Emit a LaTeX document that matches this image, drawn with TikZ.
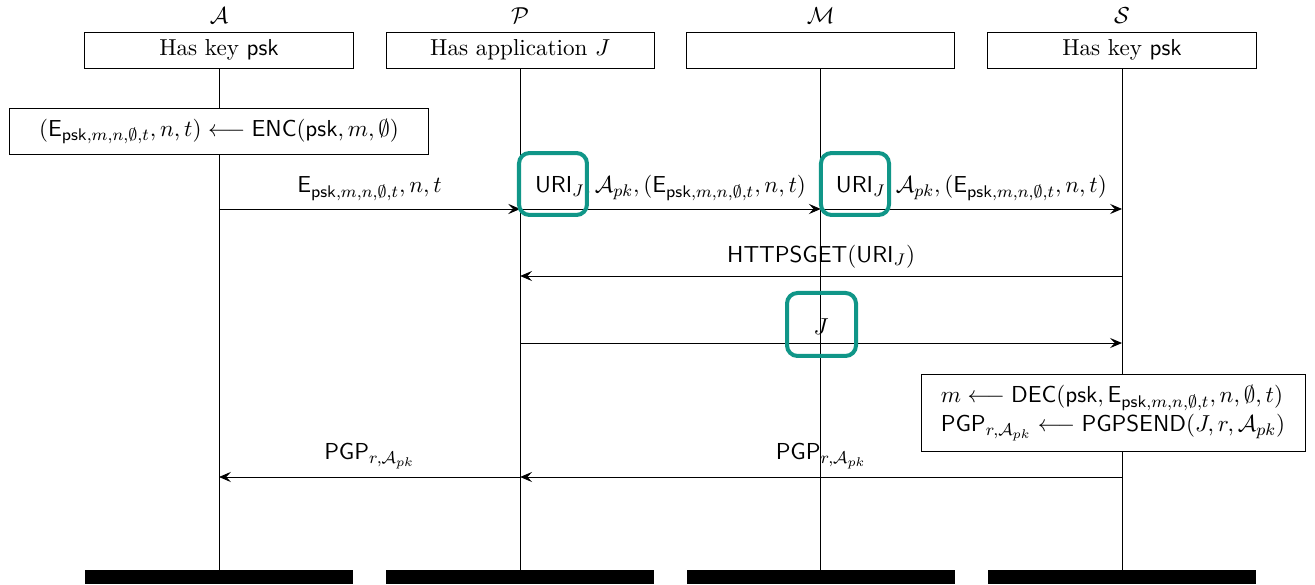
\documentclass[tikz,border=0pt,11pt]{standalone}
\usepackage{amsmath, amssymb}
\usepackage{tikz}
\usetikzlibrary{arrows.meta}
\definecolor{hlteal}{RGB}{16,150,136}

\begin{document}
\begin{tikzpicture}[
    head/.style={draw, fill=white, minimum width=4.47cm, minimum height=0.6cm, inner sep=0pt},
    bar/.style={fill=black, minimum width=4.47cm, minimum height=0.23cm, inner sep=0pt},
    act/.style={draw, fill=white, inner sep=0pt},
    msg/.style={-{Stealth[length=2mm,width=1.7mm,inset=0.8mm]}},
    hl/.style={draw=hlteal, line width=1.9pt, rounded corners=5pt}
]
    \useasboundingbox (0,0) rectangle (21.917,-9.75);

    % Instances: heads, names and ends
    \node[head] (hA) at (3.65,-0.833) {Has key $\mathsf{psk}$};
    \node[head] (hP) at (8.67,-0.833) {Has application $J$};
    \node[head] (hM) at (13.68,-0.833) {};
    \node[head] (hS) at (18.70,-0.833) {Has key $\mathsf{psk}$};
    \node[above] (nA) at (hA.north) {$\mathcal{A}$};
    \node[above] (nP) at (hP.north) {$\mathcal{P}$};
    \node[above] (nM) at (hM.north) {$\mathcal{M}$};
    \node[above] (nS) at (hS.north) {$\mathcal{S}$};
    \node[bar] (eA) at (3.65,-9.617) {};
    \node[bar] (eP) at (8.67,-9.617) {};
    \node[bar] (eM) at (13.68,-9.617) {};
    \node[bar] (eS) at (18.70,-9.617) {};

    % Lifelines
    \draw (hA) -- (eA);
    \draw (hP) -- (eP);
    \draw (hM) -- (eM);
    \draw (hS) -- (eS);

    % Message rows on the lifelines
    \foreach \n/\x in {a/3.65, p/8.67, m/13.68, s/18.70}
        \foreach \r/\y in {1/-3.483, 2/-4.6, 3/-5.717, 4/-7.95}
            \coordinate (\n\r) at (\x,\y);

    % Local actions
    \node[act, minimum width=6.97cm, minimum height=0.78cm] (enc) at (3.65,-2.19)
        {$(\mathsf{E}_{\mathsf{psk},m,n,\emptyset,t}, n, t) \longleftarrow \mathsf{ENC}(\mathsf{psk}, m, \emptyset)$};
    \node[act, minimum width=6.4cm, minimum height=1.27cm, align=left] (dec) at (18.55,-6.883)
        {$m \longleftarrow \mathsf{DEC}(\mathsf{psk}, \mathsf{E}_{\mathsf{psk},m,n,\emptyset,t}, n, \emptyset, t)$\\
         $\mathsf{PGP}_{r,\mathcal{A}_{pk}} \longleftarrow \mathsf{PGPSEND}(J, r, \mathcal{A}_{pk})$};

    % Messages
    \draw[msg] (a1) -- node[above] {$\mathsf{E}_{\mathsf{psk},m,n,\emptyset,t}, n, t$} (p1);
    \draw[msg] (p1) -- node[above] {$\mathsf{URI}_J, \mathcal{A}_{pk}, (\mathsf{E}_{\mathsf{psk},m,n,\emptyset,t}, n, t)$} (m1);
    \draw[msg] (m1) -- node[above] {$\mathsf{URI}_J, \mathcal{A}_{pk}, (\mathsf{E}_{\mathsf{psk},m,n,\emptyset,t}, n, t)$} (s1);
    \draw[msg] (s2) -- node[above] {$\mathsf{HTTPSGET}(\mathsf{URI}_J)$} (p2);
    \draw[msg] (p3) -- node[above] {$J$} (s3);
    \draw[msg] (s4) -- node[above] {$\mathsf{PGP}_{r,\mathcal{A}_{pk}}$} (p4);
    \draw[msg] (p4) -- node[above] {$\mathsf{PGP}_{r,\mathcal{A}_{pk}}$} (a4);

    % Highlights
    \draw[hl] (8.65,-2.55) rectangle (9.783,-3.583);
    \draw[hl] (13.683,-2.55) rectangle (14.817,-3.583);
    \draw[hl] (13.117,-4.883) rectangle (14.267,-5.933);
\end{tikzpicture}
\end{document}
